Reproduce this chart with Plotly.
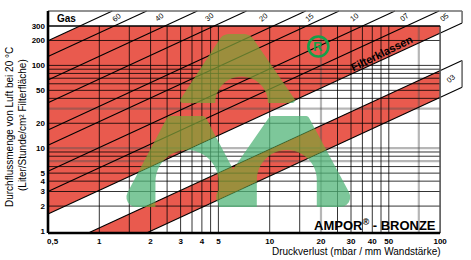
import math
import numpy as np
import plotly.graph_objects as go

# ---------------- data ----------------
X_MIN, X_MAX = 0.5, 100.0          # Druckverlust range of the grid box (mbar / mm)
Y_MIN, Y_MAX = 0.946, 300.0        # Durchfluss range of the grid box
HEADER_TOP = 454.0                 # flow level of the header's top line
BOX_RIGHT = 134.6                  # Druckverlust at the right edge of the label boxes
SLOPE = 0.95                       # log-log slope of the filter-class lines

CLASS_LINES = [384, 247, 129, 68.6, 32.1, 20.9, 10.2, 5.8, 3.09]   # flow at 1 mbar
CLASS_LABELS = ["60", "40", "30", "20", "15", "10", "07", "05"]
BAND03_LINES = [1.09, 0.516]                                        # flow at 1 mbar
BAND03_LABEL = "03"

X_TICKS = [1, 2, 3, 4, 5, 10, 20, 30, 40, 50, 100]
X_TICK_TEXT = ["1", "2", "3", "4", "5", "10", "20", "30", "40", "50", "100"]
X_FIRST_TICK, X_FIRST_TEXT = 0.5, "0,5"
Y_TICKS = [1, 2, 3, 4, 5, 10, 20, 50, 100, 200, 300]
Y_TICK_TEXT = ["1", "2", "3", "4", "5", "10", "20", "50", "100", "200", "300"]

GRID_X_BLACK = [1, 1.5, 2, 2.5, 3, 3.5, 4, 4.5, 5, 10, 15, 25, 30, 35, 40, 45, 50]
GRID_X_GRAY = [20, 75]
GRID_Y_BLACK = [2, 3, 4, 5, 6, 8, 9, 20, 40, 50, 60, 70, 80, 90, 100, 200]
GRID_Y_GRAY = [7, 10, 30]

# watermark logo blocks (data units): top/bottom flow, top & bottom x edges, arch hole
LOGO_BLOCKS = [
    dict(top=239, bottom=35.2, top_l=5.32, top_r=7.66, bot_l=2.90, bot_r=14.5,
         hole_x=6.84, hole_r=0.155, hole_top=72.0, r_top=0.13, r_bot=0.03),
    dict(top=24.5, bottom=1.95, top_l=2.53, top_r=4.17, bot_l=1.32, bot_r=7.98,
         hole_x=3.27, hole_r=0.185, hole_top=9.5, r_top=0.05, r_bot=0.12),
    dict(top=24.5, bottom=1.95, top_l=10.05, top_r=16.8, bot_l=4.29, bot_r=32.5,
         hole_x=12.6, hole_r=0.176, hole_top=9.5, r_top=0.05, r_bot=0.12),
]
REG_MARK = (19.3, 169)

# ---------------- style / layout ----------------
W, H = 471, 260
ML, MR, MT, MB = 46, 5, 9, 25
PX_X, PX_Y = 170.4, 82.8             # pixels per decade
RED = (233, 90, 78)
LIGHT_GREEN = (125, 199, 154)
OLIVE = (156, 143, 62)
LOGO_ALPHA = 0.75
FONT = "Liberation Sans"

xr0 = math.log10(X_MIN) - 2 / PX_X
xr1 = xr0 + (W - ML - MR) / PX_X
yr0 = math.log10(Y_MIN) - 2 / PX_Y
yr1 = yr0 + (H - MT - MB) / PX_Y
ASP = PX_X / PX_Y
k = SLOPE
L = math.log10


def px_paper(px, py):
    return (px - ML) / (W - ML - MR), (H - MB - py) / (H - MT - MB)


def data_paper(x, y):
    return (L(x) - xr0) / (xr1 - xr0), (L(y) - yr0) / (yr1 - yr0)


def y_on(c, x):
    return c * x ** k


def x_on(c, y):
    return (y / c) ** (1 / k)


fig = go.Figure()
shapes = []


def seg_trace(segs, color, width):
    xs, ys = [], []
    for (x0, y0, x1, y1) in segs:
        xs += [x0, x1, None]
        ys += [y0, y1, None]
    fig.add_trace(go.Scatter(x=xs, y=ys, mode="lines", line=dict(color=color, width=width),
                             hoverinfo="skip", showlegend=False))


def fill_shape(polys, color, layer):
    path = ""
    for p in polys:
        if len(p) < 3:
            continue
        path += "M" + " L".join("%.6g,%.6g" % (10 ** X, 10 ** Y) for X, Y in p) + " Z "
    if path:
        shapes.append(dict(type="path", xref="x", yref="y", path=path.strip(),
                           fillcolor=color, line=dict(width=0), layer=layer,
                           fillrule="nonzero"))


def clip(poly, a, b, c):
    out = []
    n = len(poly)
    for i in range(n):
        P, Q = poly[i], poly[(i + 1) % n]
        fp = a * P[0] + b * P[1] + c
        fq = a * Q[0] + b * Q[1] + c
        if fp >= 0:
            out.append(P)
        if (fp >= 0) != (fq >= 0):
            t = fp / (fp - fq)
            out.append((P[0] + t * (Q[0] - P[0]), P[1] + t * (Q[1] - P[1])))
    return out


def clip_all(poly, planes):
    for pl in planes:
        poly = clip(poly, *pl)
        if not poly:
            break
    return poly


lx0, lx1, ly0, ly1 = L(X_MIN), L(X_MAX), L(Y_MIN), L(Y_MAX)
BOX = [(-1, 0, lx1), (1, 0, -lx0), (0, 1, -ly0), (0, -1, ly1)]


def above(c):
    return (-k, 1, -L(c))


def below(c):
    return (k, -1, L(c))


box_poly = [(lx0, ly0), (lx0, ly1), (lx1, ly1), (lx1, ly0)]
l_first, l_last = CLASS_LINES[0], CLASS_LINES[-1]
b_up, b_lo = BAND03_LINES
REGIONS_RED = [[below(l_first), above(l_last)], [below(b_up), above(b_lo)]]
REGIONS_WHITE = [[above(l_first)], [below(l_last), above(b_up)], [below(b_lo)]]

# ---- red bands ----
red_polys = [clip_all(box_poly, BOX + r) for r in REGIONS_RED]
fill_shape(red_polys, "rgb(%d,%d,%d)" % RED, "below")

# ---- grid ----
seg_trace([(x, Y_MIN, x, Y_MAX) for x in GRID_X_GRAY] +
          [(X_MIN, y, X_MAX, y) for y in GRID_Y_GRAY], "rgba(80,80,80,0.42)", 2.2)
seg_trace([(x, Y_MIN, x, Y_MAX) for x in GRID_X_BLACK] +
          [(X_MIN, y, X_MAX, y) for y in GRID_Y_BLACK], "black", 0.8)

# ---- class lines ----
segs = []
for i, c in enumerate(CLASS_LINES):
    x0 = X_MIN
    y0 = y_on(c, x0)
    if i < len(CLASS_LINES) - 1:
        x1, y1 = x_on(c, HEADER_TOP), HEADER_TOP
    else:
        x1, y1 = BOX_RIGHT, y_on(c, BOX_RIGHT)
    segs.append((x0, y0, x1, y1))
for c in BAND03_LINES:
    segs.append((x_on(c, Y_MIN), Y_MIN, BOX_RIGHT, y_on(c, BOX_RIGHT)))
seg_trace(segs, "black", 1.1)


# ---- logo ----
def fillet(prev, p, nxt, rad, n=7):
    p = np.array(p); u = np.array(prev) - p; v = np.array(nxt) - p
    u /= np.linalg.norm(u); v /= np.linalg.norm(v)
    ang = math.acos(max(-1, min(1, float(u @ v))))
    if rad <= 0 or ang < 1e-3:
        return [tuple(p)]
    t = rad / math.tan(ang / 2)
    t1, t2 = p + u * t, p + v * t
    bis = (u + v) / np.linalg.norm(u + v)
    cc = p + bis * rad / math.sin(ang / 2)
    a1 = math.atan2(*(t1 - cc)[::-1]); a2 = math.atan2(*(t2 - cc)[::-1])
    d = (a2 - a1 + math.pi) % (2 * math.pi) - math.pi
    return [(cc[0] + rad * math.cos(a1 + d * s), cc[1] + rad * math.sin(a1 + d * s))
            for s in np.linspace(0, 1, n)]


def block_outline(b):
    S = lambda x, y: (L(x) * ASP, L(y))
    bot = L(b["bottom"])
    corners = [S(b["bot_l"], b["bottom"]), S(b["top_l"], b["top"]),
               S(b["top_r"], b["top"]), S(b["bot_r"], b["bottom"])]
    radii = [b["r_bot"], b["r_top"], b["r_top"], b["r_bot"]]
    hx = L(b["hole_x"]) * ASP
    r = b["hole_r"] * ASP
    cy = max(bot, L(b["hole_top"]) - r)
    hole = [(hx + r, bot)] + [(hx + r * math.cos(a), cy + r * math.sin(a))
                             for a in np.linspace(0, math.pi, 25)] + [(hx - r, bot)]
    pts = []
    for i in range(4):
        prev = hole[-1] if i == 0 else corners[i - 1]
        nxt = hole[0] if i == 3 else corners[i + 1]
        pts += fillet(prev, corners[i], nxt, radii[i])
    pts += hole
    return [(sx / ASP, sy) for sx, sy in pts]


def src_color(target, under, a):
    return tuple(max(0, min(255, (t - (1 - a) * u) / a)) for t, u in zip(target, under))


outlines = [block_outline(b) for b in LOGO_BLOCKS]
white_parts, red_parts = [], []
for o in outlines:
    for r in REGIONS_WHITE:
        white_parts.append(clip_all(o, BOX + r))
    for r in REGIONS_RED:
        red_parts.append(clip_all(o, BOX + r))
cw = src_color(LIGHT_GREEN, (255, 255, 255), LOGO_ALPHA)
cr = src_color(OLIVE, RED, LOGO_ALPHA)
fill_shape(white_parts, "rgba(%d,%d,%d,%.2f)" % (*cw, LOGO_ALPHA), "above")
fill_shape(red_parts, "rgba(%d,%d,%d,%.2f)" % (*cr, LOGO_ALPHA), "above")

# ---- frame ----
seg_trace([(X_MAX, Y_MIN, X_MAX, Y_MAX)], "#555555", 1.6)
seg_trace([(X_MIN, HEADER_TOP, BOX_RIGHT, HEADER_TOP),
           (BOX_RIGHT, y_on(l_last, BOX_RIGHT), BOX_RIGHT, HEADER_TOP),
           (BOX_RIGHT, y_on(b_lo, BOX_RIGHT), BOX_RIGHT, y_on(b_up, BOX_RIGHT))], "#6e6e6e", 1.6)
seg_trace([(X_MIN, Y_MAX, X_MAX, Y_MAX)], "black", 1.5)
seg_trace([(X_MIN, Y_MIN, X_MIN, HEADER_TOP), (X_MIN, Y_MIN, X_MAX, Y_MIN)], "black", 2.6)

# registered mark
fig.add_trace(go.Scatter(x=[REG_MARK[0]], y=[REG_MARK[1]], mode="markers",
                         marker=dict(symbol="circle-open", size=20, color="#16a04a",
                                     line=dict(width=2.6, color="#16a04a")),
                         hoverinfo="skip", showlegend=False))

ann = []


def text(x, y, s, size, bold=False, angle=0, xanchor="center", yanchor="middle", color="black"):
    ann.append(dict(x=x, y=y, xref="paper", yref="paper", text=s, showarrow=False,
                    textangle=angle, xanchor=xanchor, yanchor=yanchor,
                    font=dict(family=FONT, size=size, color=color,
                              weight="bold" if bold else "normal")))


rx, ry = data_paper(*REG_MARK)
text(rx, ry, "R", 13, bold=True, color="#16a04a")

# header labels
LABEL_Y = 384
for i, lab in enumerate(CLASS_LABELS):
    xa = x_on(CLASS_LINES[i], LABEL_Y)
    xb = min(x_on(CLASS_LINES[i + 1], LABEL_Y), BOX_RIGHT)
    xm = 10 ** ((L(xa) + L(xb)) / 2)
    px, py = data_paper(xm, LABEL_Y)
    text(px, py, lab, 7.5, angle=-40)
xm = 10 ** ((L(X_MAX) + L(BOX_RIGHT)) / 2)
ym = 10 ** ((L(y_on(b_up, xm)) + L(y_on(b_lo, xm))) / 2)
text(*data_paper(xm, ym), BAND03_LABEL, 7.5, angle=-40)

text(*px_paper(66, 18.5), "Gas", 10, bold=True)
text(*px_paper(382, 53), "Filterklassen", 11, bold=True, angle=-26)
text(*px_paper(438, 225), "AMPOR<sup>®</sup> - BRONZE", 13, bold=True, xanchor="right")
text(*px_paper(443, 251), "Druckverlust (mbar / mm Wandstärke)", 10, xanchor="right")
text(*px_paper(10, 127), "Durchflussmenge von Luft bei 20 °C", 10, angle=-90)
text(*px_paper(22, 125), "(Liter/Stunde/cm² Filterfläche)", 10, angle=-90)
fx, _ = data_paper(X_FIRST_TICK, 1)
text(fx + 5 / (W - ML - MR), px_paper(0, 241)[1], X_FIRST_TEXT, 8, bold=True)

tickfont = dict(family=FONT, size=8, color="black", weight="bold")
fig.update_layout(
    width=W, height=H, margin=dict(l=ML, r=MR, t=MT, b=MB),
    paper_bgcolor="white", plot_bgcolor="white", showlegend=False,
    annotations=ann, shapes=shapes,
    xaxis=dict(type="log", range=[xr0, xr1], tickvals=X_TICKS, ticktext=X_TICK_TEXT,
               showgrid=False, zeroline=False, showline=False, ticks="", tickfont=tickfont,
               fixedrange=True),
    yaxis=dict(type="log", range=[yr0, yr1], tickvals=Y_TICKS, ticktext=Y_TICK_TEXT,
               showgrid=False, zeroline=False, showline=False, ticks="", tickfont=tickfont,
               fixedrange=True),
)
fig.write_html("out.html")
